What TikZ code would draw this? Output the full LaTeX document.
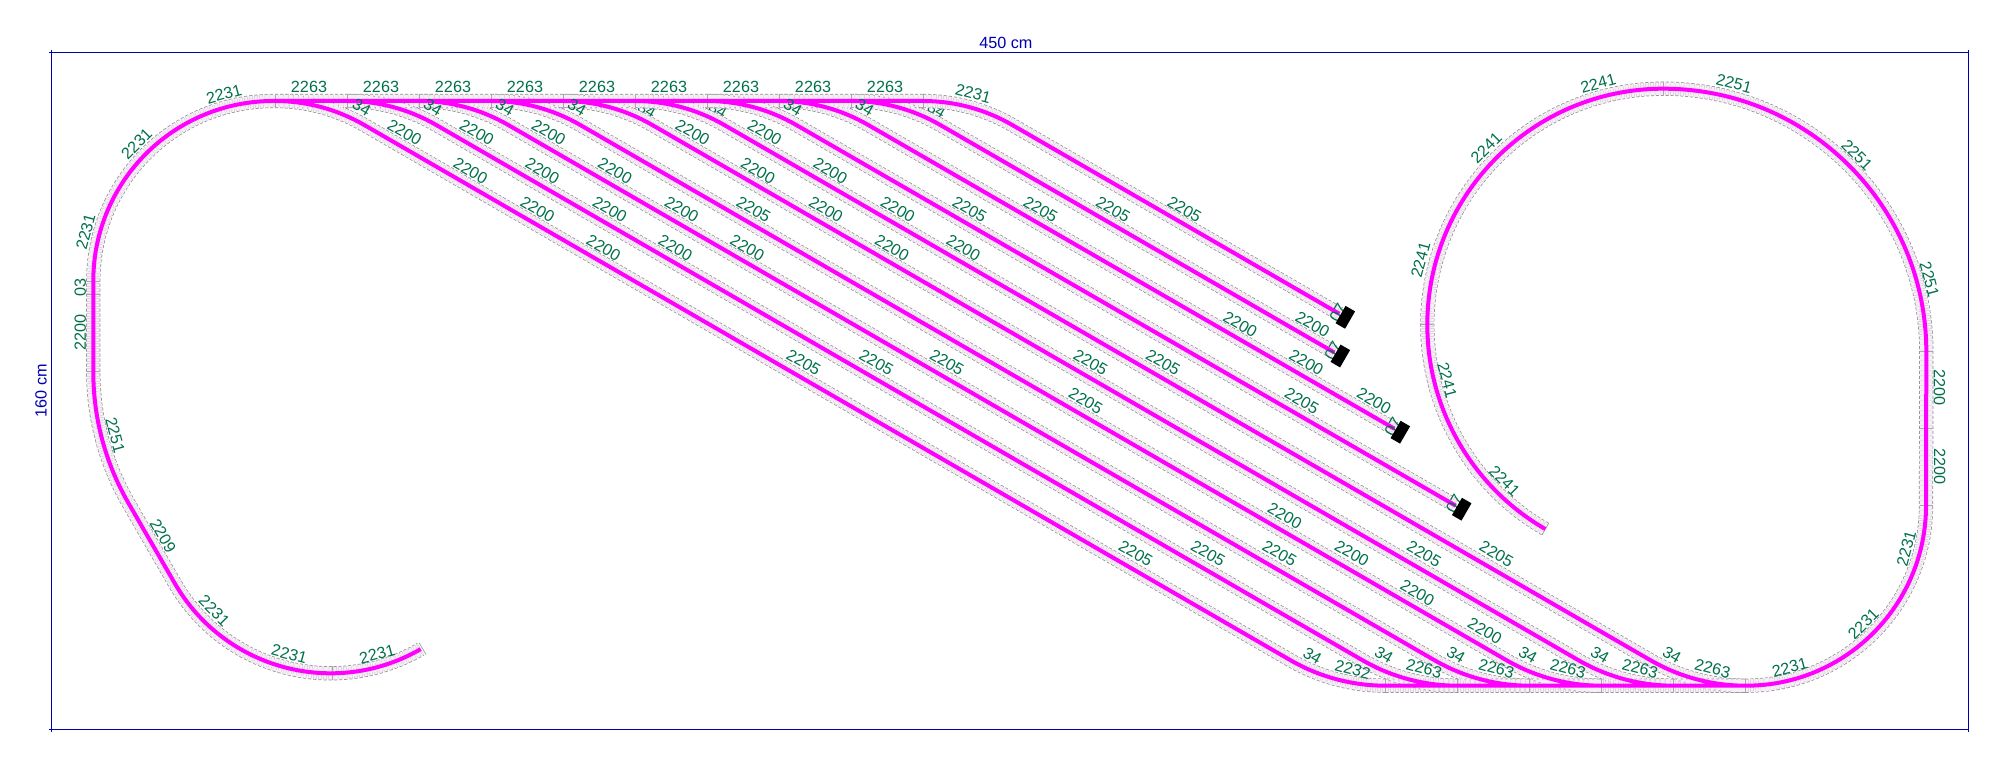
\documentclass[tikz,border=0pt]{standalone}
\usepackage{fontspec}
\setmainfont{Liberation Sans}
\definecolor{frameblue}{HTML}{0000B0}
\definecolor{partgreen}{HTML}{00704A}
\definecolor{railmagenta}{HTML}{FF00FF}
\definecolor{bedpale}{HTML}{F6EEF6}
\definecolor{bedgray}{HTML}{8C8C8C}
\definecolor{jointgray}{HTML}{A8A8A8}
\tikzset{
  dimline/.style={draw=frameblue,line width=0.6pt},
  dimtext/.style={text=frameblue,inner sep=0pt,font=\fontsize{8.1}{10}\selectfont},
  partno/.style={text=partgreen,inner sep=0pt,font=\fontsize{8.1}{10}\selectfont},
  bedfill/.style={draw=bedpale,line width=6.4pt},
  bededge/.style={draw=bedgray,line width=0.35pt,double=bedpale,double distance=6.4pt,dash pattern=on 1.5pt off 1pt},
  rail/.style={draw=railmagenta,line width=2pt},
  joint/.style={draw=jointgray,line width=0.4pt},
  bumper/.style={fill=black,draw=none,minimum width=10pt,minimum height=5.5pt,inner sep=0pt,rotate=60}
}
% all track, one piece of path per line
\newcommand{\trackplan}{
  (923,101) -- (273.3,101) arc (270:180:180) -- (93.3,372) arc (180:150:262) -- ++(60:92.7) arc (150:60:180)
  (1385.5,685.7) -- (1746,685.7) arc (90:0:180) -- (1926.3,351.7) arc (0:-90:263) arc (270:120:236)
  (275,101) arc (270:300:178) -- (1290.5,660.24) arc (120:90:190)
  (347,101) arc (270:300:178) -- (1362.5,660.24) arc (120:90:190)
  (419,101) arc (270:300:178) -- (1434.5,660.24) arc (120:90:190)
  (491,101) arc (270:300:178) -- (1506.5,660.24) arc (120:90:190)
  (563,101) arc (270:300:178) -- (1578.5,660.24) arc (120:90:190)
  (635,101) arc (270:300:178) -- (1650.5,660.24) arc (120:90:190)
  (707,101) arc (270:300:178) -- (1455.7,505.7)
  (779,101) arc (270:300:178) -- (1394.3,428.7)
  (851,101) arc (270:300:178) -- (1334.3,352.5)
  (923,101) arc (270:300:178) -- (1339.3,313.8)
}
\begin{document}
\begin{tikzpicture}[x=0.5pt,y=-0.5pt]
\useasboundingbox (0,0) rectangle (2000,763);
% overall size
\draw[dimline] (49,52.3) -- (1968.3,52.3);
\draw[dimline] (51.3,50) -- (51.3,732);
\draw[dimline] (49,729.3) -- (1968.3,729.3);
\draw[dimline] (1968.3,50) -- (1968.3,732);
\node[dimtext] (width) at (1005.8,42.7) {450 cm};
\node[dimtext,rotate=90] (height) at (41,390.5) {160 cm};
% these three lie under the track
\node[partno,rotate=-30] (h5) at (647,110) {34};
\node[partno,rotate=-30] (h6) at (718,110) {34};
\node[partno,rotate=-30] (h9) at (936.6,110) {34};
% track bed
\draw[bedfill] \trackplan;
\draw[bededge] \trackplan;
% joints
\draw[joint] (275,94.3) -- (275,107.7);
\draw[joint] (347,94.3) -- (347,107.7);
\draw[joint] (419,94.3) -- (419,107.7);
\draw[joint] (491,94.3) -- (491,107.7);
\draw[joint] (563,94.3) -- (563,107.7);
\draw[joint] (635,94.3) -- (635,107.7);
\draw[joint] (707,94.3) -- (707,107.7);
\draw[joint] (779,94.3) -- (779,107.7);
\draw[joint] (851,94.3) -- (851,107.7);
\draw[joint] (923,94.3) -- (923,107.7);
\draw[joint] (1385.5,679) -- (1385.5,692.4);
\draw[joint] (1457.5,679) -- (1457.5,692.4);
\draw[joint] (1529.5,679) -- (1529.5,692.4);
\draw[joint] (1601.5,679) -- (1601.5,692.4);
\draw[joint] (1673.5,679) -- (1673.5,692.4);
\draw[joint] (1745.5,679) -- (1745.5,692.4);
\draw[joint] (87,281.7) -- (100,281.7);
\draw[joint] (87,294.3) -- (100,294.3);
\draw[joint] (87,371.7) -- (100,371.7);
\draw[joint] (1920,351.7) -- (1933,351.7);
\draw[joint] (1920,428.3) -- (1933,428.3);
\draw[joint] (1920,505) -- (1933,505);
\draw[joint] (1420,324.5) -- (1433,324.5);
\draw[joint] (332.6,666) -- (332.6,679.5);
\draw[joint] (1663,82) -- (1663,95.4);
\draw[joint] (419.2,642.9) -- (426,654.5);
\draw[joint] (1548.6,523.3) -- (1542,534.9);
% rails
\draw[rail] \trackplan;
% buffer stops
\node[partno,rotate=60] (s1) at (1338,312.5) {07};
\node[partno,rotate=60] (s2) at (1333,350.5) {07};
\node[partno,rotate=60] (s3) at (1393,427) {07};
\node[partno,rotate=60] (s4) at (1454.5,503.5) {07};
\node[bumper] (b1) at (1345.3,317.3) {};
\node[bumper] (b2) at (1340.3,356) {};
\node[bumper] (b3) at (1400.3,432.2) {};
\node[bumper] (b4) at (1461.7,509.2) {};
% top row
\node[partno] (t1) at (309,87.3) {2263};
\node[partno] (t2) at (381,87.3) {2263};
\node[partno] (t3) at (453,87.3) {2263};
\node[partno] (t4) at (525,87.3) {2263};
\node[partno] (t5) at (597,87.3) {2263};
\node[partno] (t6) at (669,87.3) {2263};
\node[partno] (t7) at (741,87.3) {2263};
\node[partno] (t8) at (813,87.3) {2263};
\node[partno] (t9) at (885,87.3) {2263};
\node[partno,rotate=-30] (h1) at (361.6,107.3) {34};
\node[partno,rotate=-30] (h2) at (433,107.3) {34};
\node[partno,rotate=-30] (h3) at (505,107.3) {34};
\node[partno,rotate=-30] (h4) at (577,107.3) {34};
\node[partno,rotate=-30] (h7) at (793,107.3) {34};
\node[partno,rotate=-30] (h8) at (864.7,107.3) {34};
% left loop
\node[partno,rotate=15] (l1) at (224,94) {2231};
\node[partno,rotate=45] (l2) at (136.6,144) {2231};
\node[partno,rotate=75] (l3) at (85.7,231.7) {2231};
\node[partno,rotate=90] (l4) at (80.4,287.7) {03};
\node[partno,rotate=90] (l5) at (80.4,332.3) {2200};
\node[partno,rotate=-75] (l6) at (115.2,435) {2251};
\node[partno,rotate=-60] (l7) at (163,536) {2209};
\node[partno,rotate=-45] (l8) at (214.3,610.7) {2231};
\node[partno,rotate=-15] (l9) at (289.3,654) {2231};
\node[partno,rotate=15] (l10) at (377.2,654) {2231};
\node[partno,rotate=-15] (l11) at (973.2,93.3) {2231};
% diagonals, row by row
\node[partno,rotate=-30] (d1) at (404.5,132.3) {2200};
\node[partno,rotate=-30] (d2) at (476.8,132.3) {2200};
\node[partno,rotate=-30] (d3) at (548.7,132.3) {2200};
\node[partno,rotate=-30] (d4) at (692.6,132.3) {2200};
\node[partno,rotate=-30] (d5) at (764.7,132.3) {2200};
\node[partno,rotate=-30] (d6) at (470.5,170.7) {2200};
\node[partno,rotate=-30] (d7) at (542.4,170.7) {2200};
\node[partno,rotate=-30] (d8) at (615,170.7) {2200};
\node[partno,rotate=-30] (d9) at (758,170.7) {2200};
\node[partno,rotate=-30] (d10) at (830.4,170.7) {2200};
\node[partno,rotate=-30] (d11) at (537.5,209.3) {2200};
\node[partno,rotate=-30] (d12) at (609.8,209.3) {2200};
\node[partno,rotate=-30] (d13) at (681.7,209.3) {2200};
\node[partno,rotate=-30] (d14) at (753.6,209.3) {2205};
\node[partno,rotate=-30] (d15) at (825.9,209.3) {2200};
\node[partno,rotate=-30] (d16) at (897.8,209.3) {2200};
\node[partno,rotate=-30] (d17) at (969.6,209.3) {2205};
\node[partno,rotate=-30] (d18) at (1040.6,209.3) {2205};
\node[partno,rotate=-30] (d19) at (1113,209.3) {2205};
\node[partno,rotate=-30] (d20) at (1184.4,209.3) {2205};
\node[partno,rotate=-30] (d21) at (603.6,248) {2200};
\node[partno,rotate=-30] (d22) at (675.4,248) {2200};
\node[partno,rotate=-30] (d23) at (747.3,248) {2200};
\node[partno,rotate=-30] (d24) at (892,248) {2200};
\node[partno,rotate=-30] (d25) at (963.4,248) {2200};
\node[partno,rotate=-30] (d26) at (1240.2,324.3) {2200};
\node[partno,rotate=-30] (d27) at (1312.5,324.3) {2200};
\node[partno,rotate=-30] (d28) at (803.6,362.3) {2205};
\node[partno,rotate=-30] (d29) at (876.3,362.3) {2205};
\node[partno,rotate=-30] (d30) at (946.9,362.3) {2205};
\node[partno,rotate=-30] (d31) at (1090.6,362.3) {2205};
\node[partno,rotate=-30] (d32) at (1163,362.3) {2205};
\node[partno,rotate=-30] (d33) at (1306.3,362.3) {2200};
\node[partno,rotate=-30] (d34) at (1085.7,401) {2205};
\node[partno,rotate=-30] (d35) at (1301.8,401) {2205};
\node[partno,rotate=-30] (d36) at (1374,401) {2200};
\node[partno,rotate=-30] (d37) at (1284.8,515.7) {2200};
\node[partno,rotate=-30] (d38) at (1135.7,553.3) {2205};
\node[partno,rotate=-30] (d39) at (1208,553.3) {2205};
\node[partno,rotate=-30] (d40) at (1279.5,553.3) {2205};
\node[partno,rotate=-30] (d41) at (1351.8,553.3) {2200};
\node[partno,rotate=-30] (d42) at (1424,554) {2205};
\node[partno,rotate=-30] (d43) at (1496.4,554) {2205};
\node[partno,rotate=-30] (d44) at (1417.4,592.7) {2200};
\node[partno,rotate=-30] (d45) at (1484.8,630.7) {2200};
% bottom row
\node[partno,rotate=-30] (f1) at (1312.5,656) {34};
\node[partno,rotate=-30] (f2) at (1384,655) {34};
\node[partno,rotate=-30] (f3) at (1456,655) {34};
\node[partno,rotate=-30] (f4) at (1528,655) {34};
\node[partno,rotate=-30] (f5) at (1600,655) {34};
\node[partno,rotate=-30] (f6) at (1672,655) {34};
\node[partno,rotate=-15] (g1) at (1352.7,669.3) {2232};
\node[partno,rotate=-15] (g2) at (1424,668.3) {2263};
\node[partno,rotate=-15] (g3) at (1496.4,668.3) {2263};
\node[partno,rotate=-15] (g4) at (1567.9,668.3) {2263};
\node[partno,rotate=-15] (g5) at (1640,668.3) {2263};
\node[partno,rotate=-15] (g6) at (1712.5,668.3) {2263};
% right loop
\node[partno,rotate=15] (r1) at (1789.7,667.3) {2231};
\node[partno,rotate=45] (r2) at (1863.4,624) {2231};
\node[partno,rotate=75] (r3) at (1906.3,548.3) {2231};
\node[partno,rotate=-90] (r4) at (1939.7,466.7) {2200};
\node[partno,rotate=-90] (r5) at (1939.3,388) {2200};
\node[partno,rotate=-75] (r6) at (1929.5,279.3) {2251};
\node[partno,rotate=-45] (r7) at (1857,155) {2251};
\node[partno,rotate=-15] (r8) at (1734,83.3) {2251};
\node[partno,rotate=15] (r9) at (1598.2,83.3) {2241};
\node[partno,rotate=45] (r10) at (1486.2,147.7) {2241};
\node[partno,rotate=75] (r11) at (1420.5,260) {2241};
\node[partno,rotate=-75] (r12) at (1447.3,380) {2241};
\node[partno,rotate=-45] (r13) at (1504.5,481) {2241};
\end{tikzpicture}
\end{document}
